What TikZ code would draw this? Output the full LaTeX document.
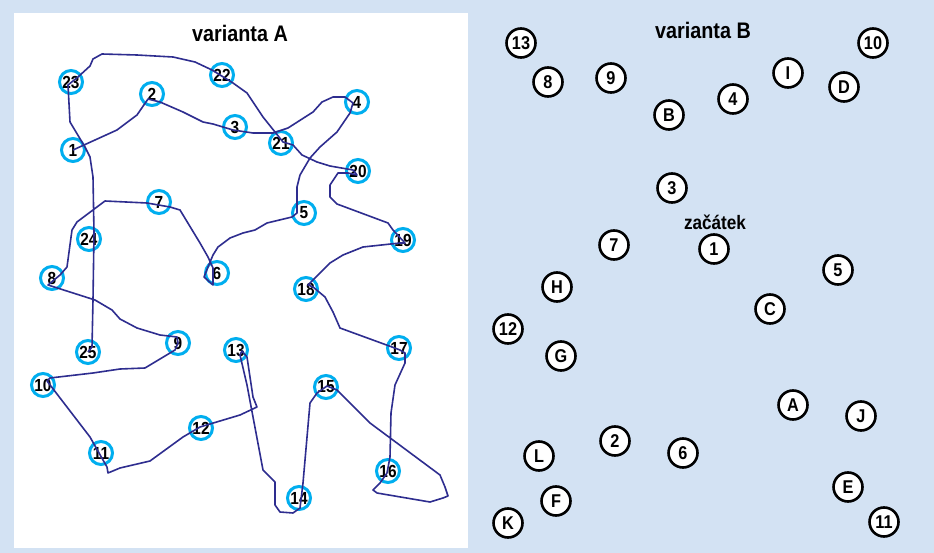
\documentclass[tikz,border=0pt]{standalone}
\usepackage{fontspec}
\setmainfont{Liberation Sans}[FakeStretch=0.88]
\definecolor{panelblue}{HTML}{D3E2F3}
\definecolor{ringcyan}{HTML}{00AEEF}
\definecolor{routeblue}{HTML}{2E2D8F}
\begin{document}
\begin{tikzpicture}[x=1pt,y=-1pt,
	anode/.style={circle,draw=ringcyan,line width=3pt,minimum size=23pt,inner sep=0pt,font=\bfseries\fontsize{17.5}{17.5}\selectfont},
	bnode/.style={circle,draw=black,fill=white,line width=2.6pt,minimum size=29pt,inner sep=0pt,font=\bfseries\fontsize{18.5}{18.5}\selectfont},
	heading/.style={font=\bfseries\fontsize{22.5}{22.5}\selectfont},
	route/.style={routeblue,line width=1.6pt,line join=round}]
			% Background and white panel
			\useasboundingbox (0,0) rectangle (934,553);
			\fill[panelblue] (0,0) rectangle (934,553);
			\fill[white] (14,13) rectangle (468,548);

			% Variant A: numbered places
			\node[heading] (titleA) at (240,33) {varianta A};
			\node[anode] (a1) at (73,150) {1};
			\node[anode] (a2) at (152,94) {2};
			\node[anode] (a3) at (235,127) {3};
			\node[anode] (a4) at (357,102) {4};
			\node[anode] (a5) at (304,213) {5};
			\node[anode] (a6) at (217,273) {6};
			\node[anode] (a7) at (159,202) {7};
			\node[anode] (a8) at (52,278) {8};
			\node[anode] (a9) at (178,343) {9};
			\node[anode] (a10) at (43,385) {10};
			\node[anode] (a11) at (101,453) {11};
			\node[anode] (a12) at (201,428) {12};
			\node[anode] (a13) at (236,350) {13};
			\node[anode] (a14) at (299,498) {14};
			\node[anode] (a15) at (326,387) {15};
			\node[anode] (a16) at (388,471) {16};
			\node[anode] (a17) at (399,348) {17};
			\node[anode] (a18) at (306,289) {18};
			\node[anode] (a19) at (403,240) {19};
			\node[anode] (a20) at (358,171) {20};
			\node[anode] (a21) at (281,143) {21};
			\node[anode] (a22) at (222,75) {22};
			\node[anode] (a23) at (71,82) {23};
			\node[anode] (a24) at (89,239) {24};
			\node[anode] (a25) at (88,352) {25};

			% Hand-drawn tour through all places
			\draw[route] (a1.center) -- (117,130) -- (137,115) -- (148,99) -- (160,102) -- (183,112)
				-- (203,122) -- (213,124) -- (233,130) -- (253,133) -- (273,133) -- (288,128)
				-- (313,112) -- (322,102) -- (333,97) -- (345,97) -- (353,103) -- (350,113)
				-- (337,132) -- (320,147) -- (310,158) -- (300,175) -- (297,187) -- (297,213)
				-- (292,217) -- (267,223) -- (255,230) -- (243,233) -- (230,238) -- (218,247)
				-- (213,255) -- (208,267) -- (204,277) -- (213,285) -- (213,268) -- (208,257)
				-- (200,243) -- (180,210) -- (170,207) -- (147,203) -- (105,201) -- (77,222)
				-- (72,230) -- (67,267) -- (60,275) -- (48,285) -- (95,300) -- (112,310)
				-- (120,319) -- (137,328) -- (160,335) -- (177,337) -- (178,343) -- (175,350)
				-- (145,368) -- (120,369) -- (93,373) -- (50,378) -- (47,381) -- (90,437)
				-- (103,460) -- (107,467) -- (108,473) -- (120,468) -- (150,461) -- (183,437)
				-- (200,427) -- (240,415) -- (257,407) -- (253,397) -- (247,357) -- (242,351)
				-- (240,355) -- (247,385) -- (263,470) -- (275,482) -- (275,505) -- (280,512)
				-- (293,513) -- (300,508) -- (303,483) -- (310,403) -- (317,393) -- (327,386)
				-- (337,390) -- (370,423) -- (440,475) -- (445,487) -- (448,496) -- (443,498)
				-- (430,502) -- (377,493) -- (373,490) -- (380,483) -- (387,473) -- (390,457)
				-- (391,413) -- (395,385) -- (405,363) -- (405,353) -- (400,350) -- (392,347)
				-- (340,328) -- (333,312) -- (325,297) -- (313,287) -- (308,285) -- (313,280)
				-- (330,263) -- (343,255) -- (363,247) -- (400,243) -- (405,243) -- (393,230)
				-- (388,223) -- (337,204) -- (330,197) -- (330,185) -- (338,173) -- (348,173)
				-- (357,175) -- (353,170) -- (330,166) -- (317,162) -- (302,155) -- (293,145)
				-- (283,142) -- (275,132) -- (263,117) -- (247,93) -- (233,83) -- (212,70)
				-- (195,62) -- (173,57) -- (137,55) -- (102,54) -- (93,59) -- (90,66)
				-- (78,77) -- (68,85) -- (70,122) -- (85,147) -- (90,157) -- (93,177)
				-- (94,233) -- (93,300) -- (92,347) -- (a25.center);

			% Variant B: places to be visited
			\node[heading] (titleB) at (703,30) {varianta B};
			\node[font=\bfseries\fontsize{19.5}{19.5}\selectfont] (start) at (715,222) {začátek};
			\node[bnode] (b13) at (521,43) {13};
			\node[bnode] (b8) at (548,82) {8};
			\node[bnode] (b9) at (611,78) {9};
			\node[bnode] (bB) at (669,115) {B};
			\node[bnode] (b4) at (733,99) {4};
			\node[bnode] (bI) at (788,73) {I};
			\node[bnode] (bD) at (844,87) {D};
			\node[bnode] (b10) at (873,43) {10};
			\node[bnode] (b3) at (672,188) {3};
			\node[bnode] (b1) at (714,249) {1};
			\node[bnode] (b7) at (614,245) {7};
			\node[bnode] (b5) at (838,270) {5};
			\node[bnode] (bH) at (557,287) {H};
			\node[bnode] (bC) at (770,309) {C};
			\node[bnode] (b12) at (508,329) {12};
			\node[bnode] (bG) at (561,356) {G};
			\node[bnode] (bA) at (793,405) {A};
			\node[bnode] (bJ) at (861,416) {J};
			\node[bnode] (b2) at (615,441) {2};
			\node[bnode] (b6) at (683,453) {6};
			\node[bnode] (bL) at (539,456) {L};
			\node[bnode] (bF) at (556,501) {F};
			\node[bnode] (bE) at (848,487) {E};
			\node[bnode] (bK) at (508,523) {K};
			\node[bnode] (b11) at (884,522) {11};
		\end{tikzpicture}
\end{document}
